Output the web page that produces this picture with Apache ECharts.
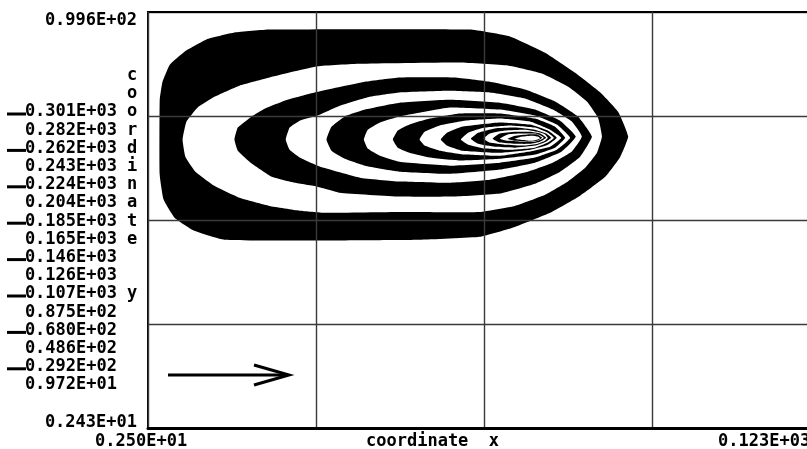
<!DOCTYPE html>
<html>
<head>
<meta charset="utf-8">
<script src="https://cdn.jsdelivr.net/npm/echarts@6/dist/echarts.min.js"></script>
<style>
html, body { margin: 0; padding: 0; background: #fff; }
#main { width: 807px; height: 449px; }
</style>
</head>
<body>
<div id="main"></div>
<script>
// axis extents (data units)
var xRange = [2.50, 123];
var yRange = [2.43, 99.6];
var xTickLabels = ['0.250E+01', '0.123E+03'];
var yTickLabels = ['0.996E+02', '0.243E+01'];

// contour levels listed down the left side
var levelLabels = ['0.301E+03', '0.282E+03', '0.262E+03', '0.243E+03', '0.224E+03',
  '0.204E+03', '0.185E+03', '0.165E+03', '0.146E+03', '0.126E+03', '0.107E+03',
  '0.875E+02', '0.680E+02', '0.486E+02', '0.292E+02', '0.972E+01'];

// contour lines, outermost (0.972E+01) first, in (x, y) data units
var c01 = [[4.6,79.1],[5.1,83.3],[6.4,87.3],[9.1,90.4],[13.0,93.2],[18.0,94.8],[24.3,95.5],[60.2,95.5],[67.4,93.9],[73.7,90.1],[79.1,85.4],[83.6,80.8],[86.8,76.3],[88.6,70.5],[87.2,65.8],[84.5,61.1],[80.0,56.7],[74.6,52.7],[68.3,49.4],[62.0,47.1],[51.2,46.4],[29.7,46.2],[16.2,46.4],[10.8,48.5],[7.3,51.5],[5.3,55.8],[4.6,61.6]];
var c02 = [[8.7,69.8],[9.4,74.0],[11.4,77.3],[14.4,79.8],[18.9,82.4],[24.3,84.3],[32.9,86.9],[40.5,87.5],[58.4,87.8],[67.0,87.1],[73.2,85.2],[77.8,82.2],[81.2,78.7],[83.2,74.9],[83.9,70.5],[83.0,66.7],[80.9,63.2],[77.8,60.0],[73.7,56.9],[68.3,54.3],[62.0,52.9],[47.6,52.9],[34.2,52.7],[29.7,53.2],[24.3,54.3],[18.9,56.2],[14.4,59.0],[11.0,62.3],[9.2,65.8]];
var c03 = [[18.0,69.8],[18.6,72.6],[21.1,75.2],[23.4,77.0],[27.5,79.1],[32.4,80.8],[41.4,83.3],[47.6,84.3],[57.5,84.3],[63.8,83.3],[70.1,81.5],[75.5,78.7],[79.6,75.2],[82.1,70.5],[80.0,65.8],[76.4,62.3],[71.9,59.5],[65.6,57.2],[57.5,56.5],[47.6,56.5],[36.9,57.4],[32.9,58.8],[28.8,59.7],[24.7,61.1],[21.1,64.2],[18.6,67.2]];
var c04 = [[27.2,69.8],[27.9,72.6],[29.7,74.2],[32.9,75.4],[36.9,77.7],[42.3,79.8],[47.6,80.8],[56.6,81.2],[63.8,80.8],[70.1,79.4],[75.1,76.8],[78.5,74.0],[80.3,70.5],[78.5,67.0],[75.1,64.4],[70.1,62.1],[63.8,60.4],[56.6,59.7],[47.6,60.0],[40.5,60.9],[33.3,63.5],[29.7,65.6],[27.9,67.4]];
var c05 = [[34.5,69.8],[35.4,72.8],[37.8,75.2],[41.4,76.8],[47.6,78.4],[56.6,79.1],[65.6,78.4],[71.9,76.8],[76.4,74.2],[79.2,70.5],[76.7,67.0],[71.9,64.4],[65.6,62.8],[56.6,61.8],[47.6,62.3],[41.4,63.7],[37.8,65.3],[35.4,67.2]];
var c06 = [[41.2,69.8],[41.9,72.1],[44.1,73.8],[47.6,75.2],[56.6,77.3],[65.6,76.8],[71.9,75.4],[75.8,73.3],[78.2,70.2],[75.8,67.4],[71.9,65.6],[65.6,64.4],[56.6,63.7],[47.6,64.6],[44.1,66.0],[41.9,67.7]];
var c07 = [[46.4,69.8],[47.3,71.9],[49.4,73.3],[53.0,74.7],[58.4,75.9],[65.6,75.9],[71.9,74.7],[75.5,72.8],[77.3,70.2],[75.5,67.9],[71.9,66.3],[65.6,65.3],[58.4,64.9],[53.0,65.6],[49.4,66.7],[47.3,67.9]];
var c08 = [[51.2,69.8],[52.1,71.6],[54.8,73.1],[59.3,74.2],[65.6,74.7],[71.0,74.0],[74.6,72.1],[76.6,70.2],[74.6,68.1],[71.0,67.0],[65.6,66.0],[59.3,66.3],[54.8,67.2],[52.1,68.4]];
var c09 = [[55.0,69.8],[56.1,71.4],[58.8,72.8],[65.6,73.8],[71.0,73.3],[74.2,71.9],[75.8,70.2],[74.2,68.6],[71.0,67.4],[65.6,66.7],[58.8,67.2],[56.1,68.4]];
var c10 = [[58.6,69.8],[59.9,71.4],[62.9,72.6],[67.4,73.1],[71.9,72.6],[74.2,71.4],[75.3,70.2],[74.2,69.1],[71.9,67.9],[67.4,67.4],[62.9,67.7],[59.9,68.6]];
var c11 = [[60.4,70.0],[61.7,71.4],[64.7,72.4],[68.3,72.6],[71.9,72.1],[73.9,71.2],[74.8,70.2],[73.9,69.3],[71.9,68.4],[68.3,67.9],[64.7,68.1],[61.7,68.8]];
var c12 = [[62.7,70.0],[63.8,71.2],[66.5,71.9],[70.1,72.1],[72.4,71.6],[73.7,71.0],[74.2,70.2],[73.7,69.5],[72.4,68.8],[70.1,68.4],[66.5,68.6],[63.8,69.1]];
var c13 = [[64.3,70.0],[65.6,71.2],[68.3,71.6],[71.0,71.6],[72.8,71.2],[73.9,70.2],[72.8,69.3],[71.0,68.8],[68.3,68.8],[65.6,69.1]];
var c14 = [[65.6,70.0],[67.0,71.0],[69.2,71.2],[71.9,71.2],[73.0,70.7],[73.5,70.2],[73.0,69.8],[71.9,69.3],[69.2,69.3],[67.0,69.5]];
var c15 = [[67.0,70.0],[68.3,70.7],[70.6,71.0],[72.3,71.0],[73.2,70.2],[72.3,69.5],[70.6,69.3],[68.3,69.5]];
var c16 = [[68.3,70.0],[69.6,70.5],[71.4,70.7],[72.4,70.5],[72.8,70.1],[72.4,69.8],[71.4,69.5],[69.6,69.7]];

var contours = [c01, c02, c03, c04, c05, c06, c07, c08, c09, c10, c11, c12, c13, c14, c15, c16];

var FONT = 'bold 17px "DejaVu Sans Mono", monospace';

var chartDom = document.getElementById('main');
var myChart = echarts.init(chartDom);
var option;

var graphics = [];
function txt(s, x, y, align) {
  graphics.push({
    type: 'text', x: x, y: y, silent: true,
    style: { text: s, font: FONT, fill: '#000', align: align || 'left', verticalAlign: 'middle' }
  });
}

// level legend down the left, every second one flagged with a dash
var rowTop = 112, rowStep = 18.2;
levelLabels.forEach(function (s, i) {
  var y = rowTop + i * rowStep;
  txt(s, 117, y, 'right');
  if (i % 2 === 0) {
    graphics.push({
      type: 'line', silent: true,
      shape: { x1: 7, y1: y + 2, x2: 26, y2: y + 2 },
      style: { stroke: '#000', lineWidth: 3 }
    });
  }
});

// vertical axis title, one letter per row
var yTitle = 'coordinate  y';
for (var k = 0; k < yTitle.length; k++) {
  if (yTitle[k] !== ' ') txt(yTitle[k], 132, rowTop + (k - 2) * rowStep, 'center');
}

txt(yTickLabels[0], 137, 21, 'right');
txt(yTickLabels[1], 137, 423, 'right');
txt(xTickLabels[0], 95, 442, 'left');
txt('coordinate  x', 366, 442, 'left');
txt(xTickLabels[1], 718, 442, 'left');

// direction arrow
graphics.push({
  type: 'polyline', silent: true,
  shape: { points: [[168, 375], [287, 375]] },
  style: { stroke: '#000', lineWidth: 3, fill: null }
});
graphics.push({
  type: 'polyline', silent: true,
  shape: { points: [[254, 365], [289, 375], [254, 385]] },
  style: { stroke: '#000', lineWidth: 3, fill: null, lineJoin: 'miter' }
});

option = {
  animation: false,
  backgroundColor: '#fff',
  grid: {
    left: 148, top: 12, width: 672, height: 416,
    outerBoundsMode: 'none', containLabel: false,
    show: true, borderColor: '#000', borderWidth: 2, backgroundColor: 'transparent', z: 5
  },
  xAxis: [
    { type: 'value', min: xRange[0], max: xRange[1], show: false },
    {
      type: 'value', min: 0, max: 4, interval: 1, position: 'bottom', z: 6,
      axisLine: { show: true, onZero: false, lineStyle: { color: '#000', width: 3 } },
      axisTick: { show: false }, axisLabel: { show: false },
      splitLine: { show: true, lineStyle: { color: '#3a3a3a', width: 1.4 } }
    }
  ],
  yAxis: [
    { type: 'value', min: yRange[0], max: yRange[1], show: false },
    {
      type: 'value', min: 0, max: 4, interval: 1, position: 'left', z: 4,
      axisLine: { show: false }, axisTick: { show: false }, axisLabel: { show: false },
      splitLine: { show: true, lineStyle: { color: '#3a3a3a', width: 1.4 } }
    }
  ],
  graphic: graphics,
  series: [
    {
      type: 'custom',
      coordinateSystem: 'cartesian2d',
      xAxisIndex: 0,
      yAxisIndex: 0,
      silent: true,
      clip: true,
      data: contours.map(function (c, i) { return [c[0][0], c[0][1], i]; }),
      renderItem: function (params, api) {
        var i = params.dataIndex;
        var pts = contours[i].map(function (p) { return api.coord(p); });
        return {
          type: 'polygon',
          z2: i,
          shape: { points: pts, smooth: 0.12 },
          style: { fill: i % 2 === 0 ? '#000' : '#fff', stroke: null }
        };
      }
    }
  ]
};

option && myChart.setOption(option);
</script>
</body>
</html>
